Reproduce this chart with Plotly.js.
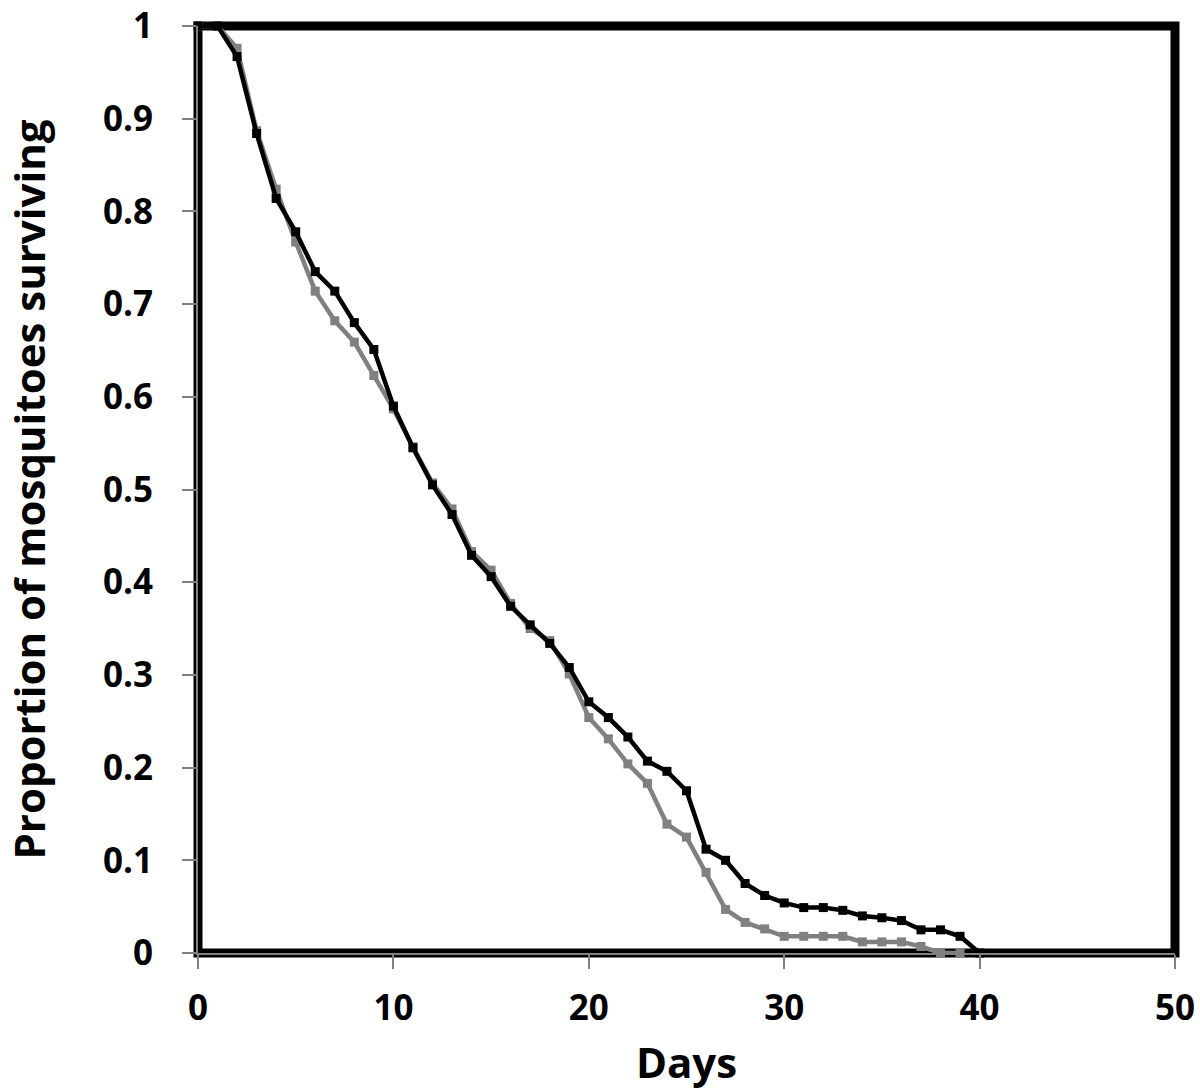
<!DOCTYPE html>
<html>
<head>
<meta charset="utf-8">
<script src="https://cdn.plot.ly/plotly-3.0.1.min.js"></script>
<style>
html, body { margin: 0; padding: 0; background: #ffffff; }
#chart { width: 1200px; height: 1092px; }
</style>
</head>
<body>
<div id="chart"></div>
<script>
// Days of observation
const daysBlack = [0,1,2,3,4,5,6,7,8,9,10,11,12,13,14,15,16,17,18,19,20,21,22,23,24,25,26,27,28,29,30,31,32,33,34,35,36,37,38,39,40];
const daysGray  = [0,1,2,3,4,5,6,7,8,9,10,11,12,13,14,15,16,17,18,19,20,21,22,23,24,25,26,27,28,29,30,31,32,33,34,35,36,37,38,39];

// Proportion surviving (black series)
const survBlack = [1,1,0.967,0.884,0.814,0.778,0.735,0.714,0.680,0.651,0.590,0.545,0.505,0.473,0.429,0.406,0.374,0.354,0.334,0.308,0.271,0.254,0.233,0.207,0.196,0.175,0.112,0.100,0.075,0.062,0.054,0.049,0.049,0.046,0.040,0.038,0.035,0.025,0.025,0.018,0];

// Proportion surviving (gray series)
const survGray = [1,1,0.976,0.887,0.824,0.767,0.714,0.682,0.659,0.623,0.587,0.546,0.507,0.479,0.433,0.413,0.377,0.350,0.337,0.301,0.254,0.231,0.204,0.183,0.139,0.125,0.087,0.047,0.033,0.026,0.018,0.018,0.018,0.018,0.012,0.012,0.012,0.007,0,0];

const xTicks = [0,10,20,30,40,50];
const yTicks = [0,0.1,0.2,0.3,0.4,0.5,0.6,0.7,0.8,0.9,1];
const yTickText = ['0','0.1','0.2','0.3','0.4','0.5','0.6','0.7','0.8','0.9','1'];

const FONT = '"Open Sans", "Liberation Sans", sans-serif';

const traces = [
  {
    x: daysGray, y: survGray, type: 'scatter', mode: 'lines+markers',
    line: {color: '#808080', width: 4.5},
    marker: {symbol: 'square', size: 9, color: '#808080'},
    cliponaxis: false,
    showlegend: false, hoverinfo: 'x+y'
  },
  {
    x: daysBlack, y: survBlack, type: 'scatter', mode: 'lines+markers',
    line: {color: '#000000', width: 4.5},
    marker: {symbol: 'square', size: 9, color: '#000000'},
    cliponaxis: false,
    showlegend: false, hoverinfo: 'x+y'
  }
];

const layout = {
  width: 1200, height: 1092,
  paper_bgcolor: '#ffffff', plot_bgcolor: '#ffffff',
  margin: {l: 198, r: 25, t: 26, b: 139},
  showlegend: false,
  font: {family: FONT, color: '#000000'},
  xaxis: {
    range: [0, 50], tickvals: xTicks, ticktext: xTicks.map(String),
    showgrid: false, zeroline: false,
    showline: true, linecolor: '#808080', linewidth: 2,
    ticks: 'outside', ticklen: 14, tickwidth: 2, tickcolor: '#808080',
    tickfont: {family: FONT, size: 35, color: '#000000', weight: 'bold'},
    ticklabelstandoff: 9,
    automargin: false,
    title: {text: '<b>Days</b>', font: {family: FONT, size: 42, color: '#000000'}, standoff: 20}
  },
  yaxis: {
    range: [0, 1], tickvals: yTicks, ticktext: yTickText,
    showgrid: false, zeroline: false,
    showline: true, linecolor: '#808080', linewidth: 2,
    ticks: 'outside', ticklen: 14, tickwidth: 2, tickcolor: '#808080',
    tickfont: {family: FONT, size: 35, color: '#000000', weight: 'bold'},
    ticklabelstandoff: 22,
    automargin: false,
    title: {text: '<b>Proportion of mosquitoes surviving</b>', font: {family: FONT, size: 42, color: '#000000'}, standoff: 62}
  },
  shapes: [
    {type: 'rect', xref: 'paper', yref: 'paper', x0: 0, x1: 1, y0: 0, y1: 1,
     line: {color: '#000000', width: 9}, layer: 'below'}
  ]
};

Plotly.newPlot('chart', traces, layout, {displayModeBar: false, staticPlot: true});
</script>
</body>
</html>
